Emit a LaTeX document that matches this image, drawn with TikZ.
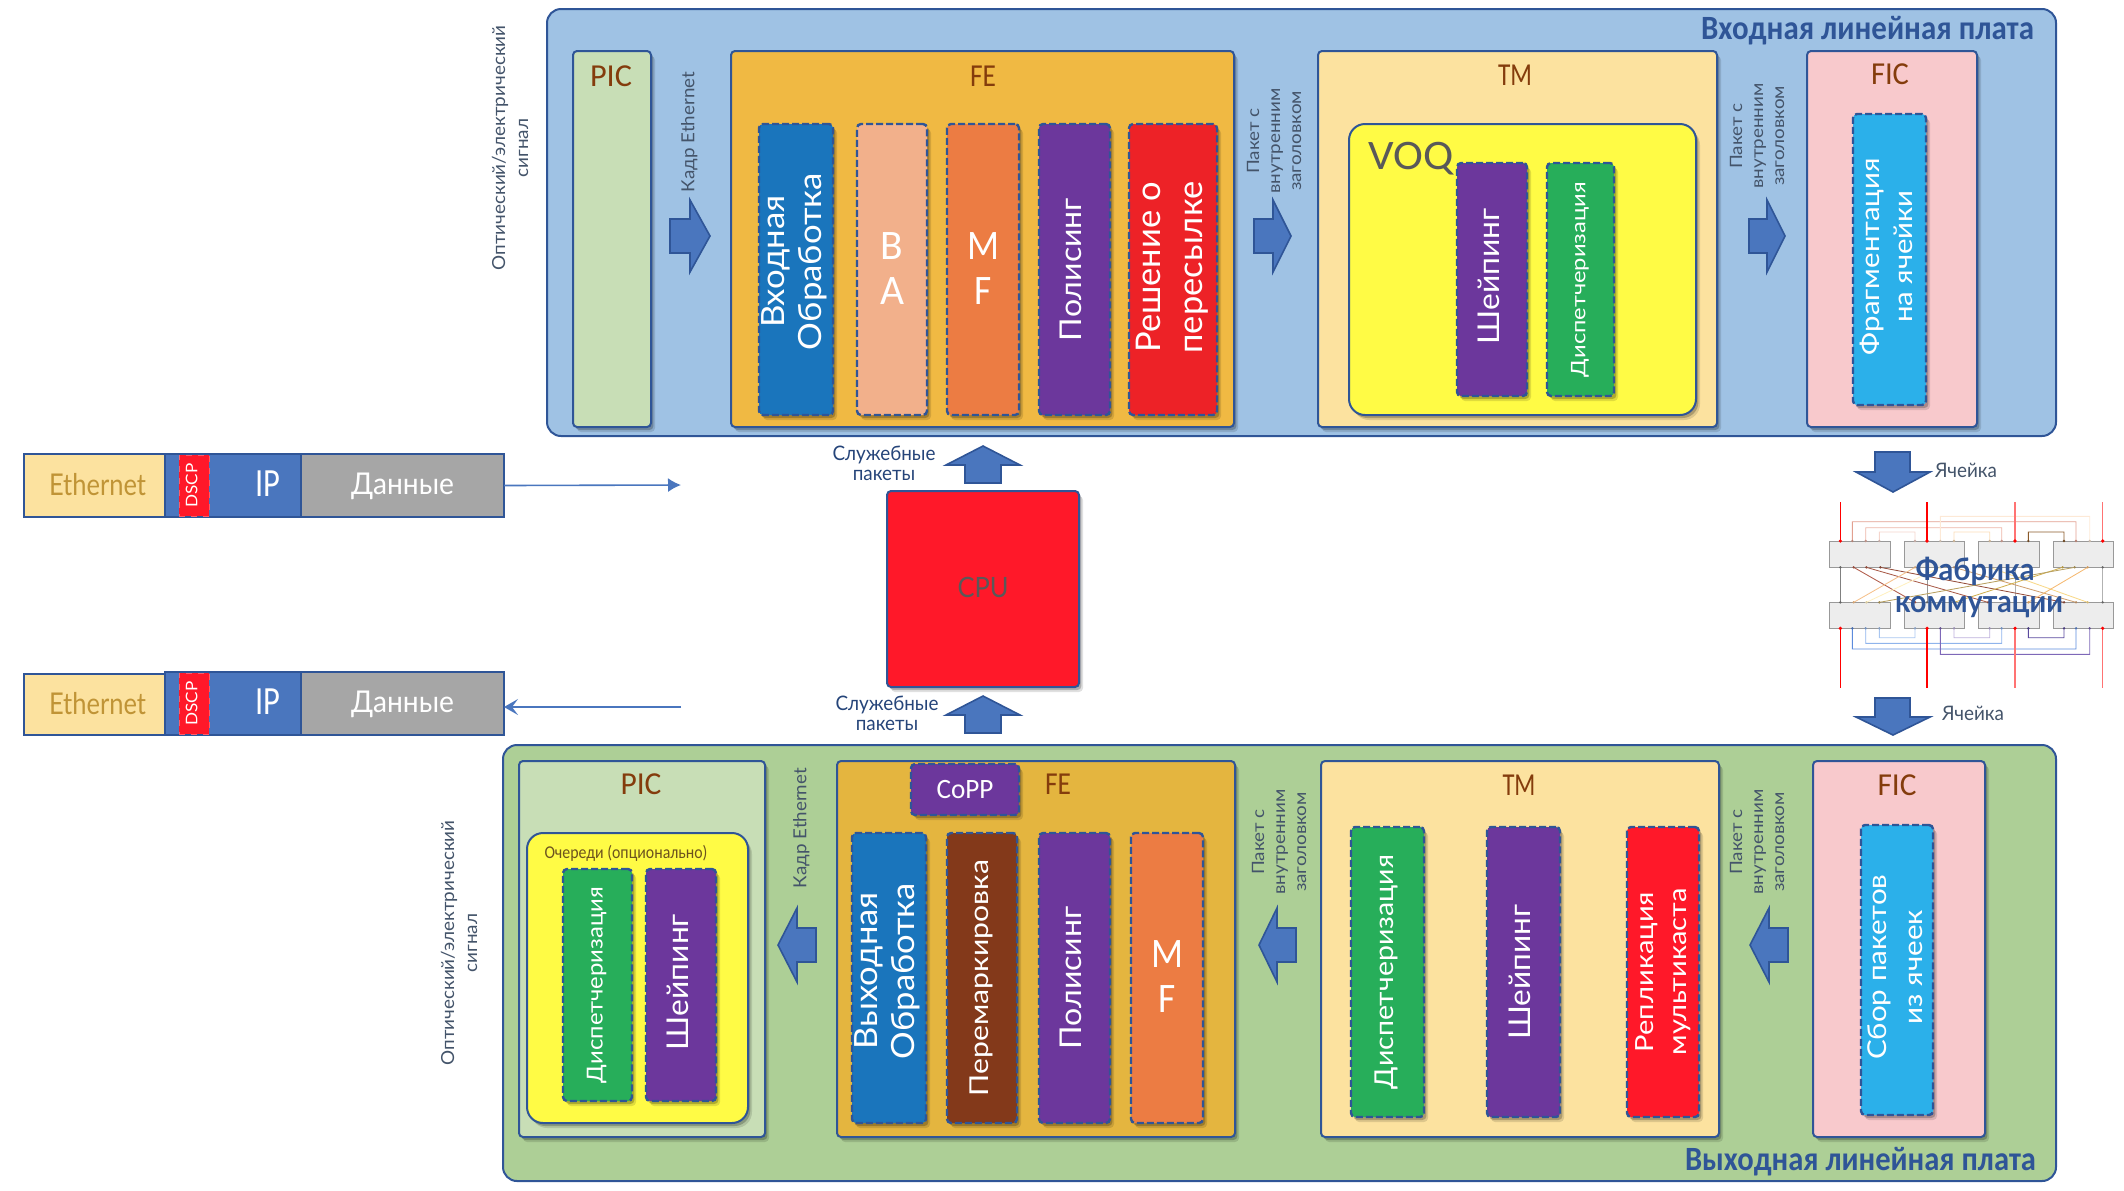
\documentclass[tikz,border=0pt]{standalone}
\usepackage{fontspec}
\usepackage{graphicx}
\setmainfont{Lato}
\newfontfamily\narf{Carlito}
\usetikzlibrary{shadows,arrows.meta}
\definecolor{edgeb}{HTML}{2F5597}
\definecolor{lblc}{HTML}{44546A}
\definecolor{boardA}{HTML}{9FC2E4}
\definecolor{boardB}{HTML}{ADCF96}
\definecolor{picc}{HTML}{C8DEB6}
\definecolor{feA}{HTML}{F0B943}
\definecolor{feB}{HTML}{E4B53F}
\definecolor{tmc}{HTML}{FCE29F}
\definecolor{yel}{HTML}{FFFB45}
\definecolor{ficc}{HTML}{F8C9CC}
\definecolor{blu}{HTML}{1A75BC}
\definecolor{ba}{HTML}{F2B08B}
\definecolor{mf}{HTML}{EC7C43}
\definecolor{pur}{HTML}{6C379C}
\definecolor{redA}{HTML}{ED2227}
\definecolor{redB}{HTML}{FF1829}
\definecolor{grn}{HTML}{27AE5A}
\definecolor{lbl}{HTML}{2BB0EA}
\definecolor{brn}{HTML}{83391A}
\definecolor{arw}{HTML}{4A76BE}
\definecolor{hdrc}{HTML}{843C0C}
\definecolor{grayd}{HTML}{A6A6A6}
% text fitted to a measured length (px), size (px), line distance (px)
\newcommand\txi[4]{\resizebox{\dimexpr#1pt/2\relax}{\height}{\fontsize{\fpeval{#2/2}}{\fpeval{#3/2}}\selectfont\begin{tabular}{@{}c@{}}#4\end{tabular}}}
\newcommand\txh[4]{\raisebox{-1.5pt}[\height][\depth]{\txi{#1}{#2}{#3}{#4}}}
\newcommand\txr[5][0pt]{\rotatebox{90}{\hspace{#1}\txi{#2}{#3}{#4}{#5}}}
\newcommand\bx[7]{\node[#6,anchor=north west,minimum width={(#4-#2)*.5pt},minimum height={(#5-#3)*.5pt}] (#1) at (#2,#3) {#7};}
\tikzset{
 every node/.style={outer sep=0pt},
 softshade/.style={general shadow={shadow xshift=2pt,shadow yshift=-2.5pt,fill=black,opacity=.12},general shadow={shadow xshift=1.2pt,shadow yshift=-1.5pt,fill=black,opacity=.22}},
 panel/.style={draw=edgeb,line width=1pt,rounded corners=2pt,inner sep=0pt,softshade},
 outer/.style={draw=edgeb,line width=1pt,rounded corners=7pt,inner sep=0pt},
 dbox/.style={panel,line width=1.2pt,dash pattern=on 3.5pt off 1.5pt,text=white},
 hdr/.style={text=hdrc,inner sep=0pt},
 side/.style={text=lblc,inner sep=0pt},
 bigarrow/.style={draw=edgeb,fill=arw,line width=.8pt},
 cell/.style={draw=edgeb,line width=1pt,inner sep=0pt},
 fab/.style={draw=black!40,fill=black!7,line width=.5pt,inner sep=0pt},
 wire/.style={line width=.42pt},
}
\begin{document}
\begin{tikzpicture}[x=.5pt,y=-.5pt]
\useasboundingbox (0,0) rectangle (2124,1190);

% ---------- input line card
\bx{inboard}{547}{9}{2056}{436}{outer,fill=boardA}{}
\node[inner sep=0pt,anchor=east,text=edgeb] (intitle) at (2034,30) {\narf\bfseries\txh{333}{34}{34}{Входная линейная плата}};
\bx{inpic}{573}{51}{651}{427}{panel,fill=picc}{}
\node[hdr] (inpict) at (611,77) {\narf\txh{42}{32}{32}{PIC}};
\bx{infe}{731}{51}{1234}{427}{panel,fill=feA}{}
\node[hdr] (infet) at (983,77) {\narf\txh{26}{32}{32}{FE}};
\bx{inproc}{759}{124}{829}{415}{dbox,fill=blu}{\txr[8pt]{177}{32}{37}{Входная\\Обработка}}
\bx{inba}{857}{124}{927}{415}{dbox,fill=ba}{\narf\txh{24}{42}{45}{B\\A}}
\bx{inmf}{947}{124}{1019}{415}{dbox,fill=mf}{\narf\txh{32}{42}{45}{M\\F}}
\bx{inpol}{1039}{124}{1110}{415}{dbox,fill=pur}{\txr{143}{30}{36}{Полисинг}}
\bx{indec}{1129}{124}{1217}{415}{dbox,fill=redA}{\txr[2pt]{172}{34}{42}{Решение о\\пересылке}}
\bx{intm}{1318}{51}{1717}{427}{panel,fill=tmc}{}
\node[hdr] (intmt) at (1515,76) {\narf\txh{34}{32}{32}{TM}};
\bx{voq}{1349}{124}{1696}{415}{panel,fill=yel,rounded corners=8pt}{}
\node[inner sep=0pt,text=black!65] (voqt) at (1411,158) {\narf\txh{85}{42}{42}{VOQ}};
\bx{inshape}{1457}{163}{1527}{396}{dbox,fill=pur}{\txr[3pt]{136}{30}{36}{Шейпинг}}
\bx{insched}{1547}{163}{1614}{396}{dbox,fill=grn}{\txr{195}{20}{24}{Диспетчеризация}}
\bx{infic}{1807}{51}{1977}{427}{panel,fill=ficc}{}
\node[hdr] (inficht) at (1890,75) {\narf\txh{38}{32}{32}{FIC}};
\bx{infrag}{1853}{114}{1926}{405}{dbox,fill=lbl}{\txr[3pt]{197}{26}{33}{Фрагментация\\на ячейки}}

\node[side] (insig) at (512,148) {\txr{245}{18}{23}{Оптический/электрический\\сигнал}};
\node[side] (inframe) at (690,132) {\txr{120}{18}{22}{Кадр Ethernet}};
\node[side] (inhdrA) at (1276,141) {\txr{105}{17}{21}{Пакет с\\внутренним\\заголовком}};
\node[side] (inhdrB) at (1759,136) {\txr{105}{17}{21}{Пакет с\\внутренним\\заголовком}};

\draw[bigarrow] (670,219) -- (690,219) -- (690,200) -- (710,236) -- (690,272) -- (690,253) -- (670,253) -- cycle;
\draw[bigarrow] (1254,219) -- (1273,219) -- (1273,200) -- (1291,236) -- (1273,272) -- (1273,253) -- (1254,253) -- cycle;
\draw[bigarrow] (1749,219) -- (1767,219) -- (1767,200) -- (1785,236) -- (1767,272) -- (1767,253) -- (1749,253) -- cycle;

% ---------- packet rows
\bx{ethA}{24}{454}{165}{517}{cell,fill=tmc,text=feA!80!black}{\hspace{3pt}\txh{97}{30}{30}{Ethernet}}
\bx{ipA}{165}{454}{301}{517}{cell,fill=arw}{}
\node[text=white,inner sep=0pt] (ipAt) at (268,485) {\narf\txh{25}{40}{40}{IP}};
\bx{dscpA}{179}{455}{209}{516}{draw=redB!70!white,dashed,line width=.4pt,fill=redB,text=white,inner sep=0pt}{\txr{44}{16}{16}{DSCP}}
\bx{dataA}{301}{454}{504}{517}{cell,fill=grayd,text=white}{\txh{103}{30}{30}{Данные}\hspace{2.5pt}}
\coordinate (outA) at (681,485);
\draw[-{Latex[length=6.5pt,width=7pt]},draw=arw,line width=.8pt] (dataA.east) -- (outA);

\bx{ethB}{24}{674}{165}{735}{cell,fill=tmc,text=feA!80!black}{\hspace{3pt}\txh{97}{30}{30}{Ethernet}}
\bx{ipB}{165}{672}{301}{735}{cell,fill=arw}{}
\node[text=white,inner sep=0pt] (ipBt) at (268,703) {\narf\txh{25}{40}{40}{IP}};
\bx{dscpB}{179}{673}{209}{734}{draw=redB!70!white,dashed,line width=.4pt,fill=redB,text=white,inner sep=0pt}{\txr{44}{16}{16}{DSCP}}
\bx{dataB}{301}{672}{504}{735}{cell,fill=grayd,text=white}{\txh{103}{30}{30}{Данные}\hspace{2.5pt}}
\coordinate (inB) at (681,707);
\draw[-{Stealth[length=7pt,width=8pt,inset=3pt]},draw=arw,line width=.8pt] (inB) -- (dataB.east |- inB);

% ---------- CPU
\bx{cpu}{887}{491}{1079}{687}{panel,fill=redB,text=black!65}{\txh{51}{28}{28}{CPU}}
\draw[bigarrow] (965,483) -- (965,465) -- (946,465) -- (983,446) -- (1020,465) -- (1001,465) -- (1001,483) -- cycle;
\draw[bigarrow] (965,733) -- (965,715) -- (946,715) -- (983,696) -- (1020,715) -- (1001,715) -- (1001,733) -- cycle;
\node[side,text=edgeb!80!black] (svcA) at (884,463) {\txh{103}{20}{20}{Служебные\\пакеты}};
\node[side,text=edgeb!80!black] (svcB) at (887,713) {\txh{103}{20}{20}{Служебные\\пакеты}};

% ---------- fabric
\draw[bigarrow] (1875,452) -- (1910,452) -- (1910,472) -- (1930,472) -- (1893,492) -- (1856,472) -- (1875,472) -- cycle;
\draw[bigarrow] (1875,698) -- (1910,698) -- (1910,717) -- (1930,717) -- (1893,735) -- (1856,717) -- (1875,717) -- cycle;
\node[side] (cellA) at (1966,470) {\txh{62}{20}{20}{Ячейка}};
\node[side] (cellB) at (1973,713) {\txh{62}{20}{20}{Ячейка}};
\begin{scope}[shift={(1780,440)},scale=1/3]
 \foreach \n/\a/\b in {a/148/331,b/372/554,c/596/778,d/820/1001}{
   \node[fab,anchor=north west,minimum width={(\b-\a)*.1667pt},minimum height={79*.1667pt}] (up\n) at (\a,303) {};
   \node[fab,anchor=north west,minimum width={(\b-\a)*.1667pt},minimum height={79*.1667pt}] (lo\n) at (\a,487) {};
 }
 \foreach \p in {181,217,221,257,259,298,301,405,441,481,522,624,629,665,705,745,848,852,884,888,923,929,968}{
   \coordinate (t\p) at (\p,303);
   \coordinate (u\p) at (\p,382);
   \coordinate (l\p) at (\p,487);
   \coordinate (b\p) at (\p,565);
 }
 \foreach \p/\c in {181/black!50,441/black!40,705/black!30,968/black!30}{
   \draw[wire,draw=\c] (u\p) -- (l\p);
   \fill[black!60] (u\p) circle (4) (l\p) circle (4);
 }
 \foreach \a/\y/\b/\c in {217/245/888/E2A090,257/263/665/EDB5A8,298/276/405/F5D5CC,481/229/929/FDE9D6,522/276/629/FBDDB8,745/276/852/8A5A2A}{
   \definecolor{wc}{HTML}{\c}
   \draw[wire,draw=wc] (t\a) -- (\a,\y) -- (\b,\y) -- (t\b);
   \fill[wc!80!black] (t\a) circle (4) (t\b) circle (4);
 }
 \foreach \a/\y/\b/\c in {217/627/888/5C8BDC,257/610/665/8FB4EC,298/593/405/A9C6F0,481/643/929/7E68B8,522/593/629/BDB0DC,745/593/852/5A4A9E}{
   \definecolor{wc}{HTML}{\c}
   \draw[wire,draw=wc] (b\a) -- (\a,\y) -- (\b,\y) -- (b\b);
   \fill[wc!80!black] (b\a) circle (4) (b\b) circle (4);
 }
 \foreach \a/\b/\c in {221/405/B05A48,259/624/A85A48,301/852/96503E,405/221/F5C08A,481/259/FFF0C0,522/888/D0A070,629/923/F8D888,848/522/D0B050,884/298/B8A060,923/745/F5B870}{
   \definecolor{wc}{HTML}{\c}
   \draw[wire,draw=wc] (u\a) -- (l\b);
   \fill[wc!85!black] (u\a) circle (4) (l\b) circle (4);
 }
 \foreach \p/\o in {181/100,441/100,705/55,968/55}{
   \coordinate (topr\p) at (\p,186);
   \coordinate (botr\p) at (\p,743);
   \draw[line width=.6pt,draw=red!\o!white] (topr\p) -- (t\p);
   \draw[line width=.6pt,draw=red!\o!white] (b\p) -- (botr\p);
   \fill[red] (t\p) circle (5.5) (b\p) circle (5.5);
 }
\end{scope}
\node[inner sep=0pt,text=edgeb] (fabA) at (1975,570) {\bfseries\txh{119}{31}{31}{Фабрика}};
\node[inner sep=0pt,text=edgeb] (fabB) at (1979,603) {\bfseries\txh{168}{31}{31}{коммутации}};

% ---------- output line card
\bx{outboard}{503}{745}{2056}{1181}{outer,fill=boardB}{}
\node[inner sep=0pt,anchor=east,text=edgeb] (outtitle) at (2036,1161) {\narf\bfseries\txh{351}{34}{34}{Выходная линейная плата}};
\bx{outpic}{519}{761}{765}{1137}{panel,fill=picc}{}
\node[hdr] (outpict) at (641,785) {\narf\txh{41}{32}{32}{PIC}};
\bx{queue}{527}{833}{748}{1123}{panel,fill=yel,rounded corners=8pt}{}
\node[inner sep=0pt,text=black!55!feA] (queuet) at (626,852) {\narf\txh{163}{18}{18}{Очереди (опционально)}};
\bx{outsched}{563}{869}{632}{1101}{dbox,fill=grn}{\txr{196}{22}{26}{Диспетчеризация}}
\bx{outshape}{646}{869}{716}{1101}{dbox,fill=pur}{\txr[3pt]{136}{30}{36}{Шейпинг}}
\bx{outfe}{837}{761}{1235}{1137}{panel,fill=feB}{}
\node[hdr] (outfet) at (1058,785) {\narf\txh{26}{32}{32}{FE}};
\bx{copp}{911}{764}{1019}{815}{dbox,fill=pur}{\narf\txh{57}{28}{28}{CoPP}}
\bx{outproc}{852}{833}{923}{1123}{dbox,fill=blu}{\txr[7pt]{176}{32}{37}{Выходная\\Обработка}}
\bx{remark}{947}{833}{1017}{1123}{dbox,fill=brn}{\txr{236}{26}{30}{Перемаркировка}}
\bx{outpol}{1039}{833}{1110}{1123}{dbox,fill=pur}{\txr{143}{30}{36}{Полисинг}}
\bx{outmf}{1131}{833}{1203}{1123}{dbox,fill=mf}{\narf\txh{32}{42}{45}{M\\F}}
\bx{outtm}{1321}{761}{1719}{1137}{panel,fill=tmc}{}
\node[hdr] (outtmt) at (1519,786) {\narf\txh{33}{32}{32}{TM}};
\bx{tmsched}{1351}{827}{1424}{1117}{dbox,fill=grn}{\txr{234}{26}{30}{Диспетчеризация}}
\bx{tmshape}{1487}{827}{1560}{1117}{dbox,fill=pur}{\txr{135}{30}{36}{Шейпинг}}
\bx{repl}{1627}{827}{1699}{1117}{dbox,fill=redB}{\txr{167}{25}{33}{Репликация\\мультикаста}}
\bx{outfic}{1813}{761}{1985}{1137}{panel,fill=ficc}{}
\node[hdr] (outficht) at (1897,786) {\narf\txh{39}{32}{32}{FIC}};
\bx{reasm}{1861}{825}{1933}{1115}{dbox,fill=lbl}{\txr[3pt]{185}{26}{36}{Сбор пакетов\\из ячеек}}

\node[side] (outsig) at (461,943) {\txr{245}{18}{23}{Оптический/электрический\\сигнал}};
\node[side] (outframe) at (802,828) {\txr{120}{18}{22}{Кадр Ethernet}};
\node[side] (outhdrA) at (1281,842) {\txr{105}{17}{21}{Пакет с\\внутренним\\заголовком}};
\node[side] (outhdrB) at (1759,842) {\txr{105}{17}{21}{Пакет с\\внутренним\\заголовком}};

\draw[bigarrow] (816,928) -- (797,928) -- (797,908) -- (778,945) -- (797,982) -- (797,962) -- (816,962) -- cycle;
\draw[bigarrow] (1296,928) -- (1277,928) -- (1277,908) -- (1259,945) -- (1277,982) -- (1277,962) -- (1296,962) -- cycle;
\draw[bigarrow] (1788,928) -- (1769,928) -- (1769,908) -- (1750,945) -- (1769,982) -- (1769,962) -- (1788,962) -- cycle;
\end{tikzpicture}
\end{document}
